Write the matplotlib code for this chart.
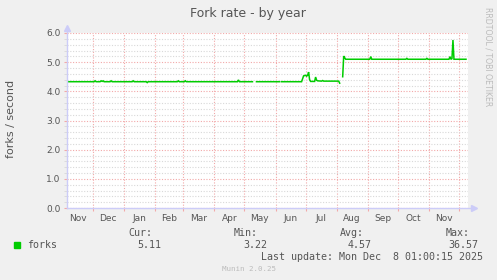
import numpy as np
import matplotlib
matplotlib.use("Agg")
import matplotlib.pyplot as plt
import matplotlib.dates as mdates
from matplotlib.ticker import MultipleLocator, FixedLocator, NullFormatter

# ---------------------------
# DATA (daily averages)
# ---------------------------
nan = np.nan
dates = [
    "2024-11-05", "2024-12-02", "2024-12-03", "2024-12-04",
    "2024-12-08", "2024-12-09", "2024-12-10", "2024-12-11", "2024-12-12",
    "2024-12-18", "2024-12-19", "2024-12-20",
    "2025-01-09", "2025-01-10", "2025-01-11",
    "2025-01-23", "2025-01-24", "2025-01-25",
    "2025-02-23", "2025-02-24", "2025-02-25",
    "2025-03-02", "2025-03-03", "2025-03-04",
    "2025-04-24", "2025-04-25", "2025-04-26",
    "2025-05-09", "2025-05-10", "2025-05-13",
    "2025-06-05", "2025-06-06", "2025-06-07",
    "2025-06-27", "2025-06-29", "2025-07-01", "2025-07-02", "2025-07-03",
    "2025-07-04", "2025-07-05", "2025-07-06", "2025-07-10", "2025-07-11",
    "2025-07-12", "2025-07-13", "2025-07-17", "2025-07-18", "2025-07-19",
    "2025-08-03", "2025-08-04", "2025-08-05",
    "2025-08-07", "2025-08-08", "2025-08-09", "2025-08-10",
    "2025-09-03", "2025-09-04", "2025-09-05",
    "2025-10-09", "2025-10-10", "2025-10-11",
    "2025-10-29", "2025-10-30", "2025-10-31",
    "2025-11-21", "2025-11-22", "2025-11-23", "2025-11-24", "2025-11-25",
    "2025-11-26", "2025-12-08",
]
forks = [
    4.33, 4.33, 4.36, 4.33,
    4.33, 4.36, 4.34, 4.36, 4.33,
    4.33, 4.36, 4.33,
    4.33, 4.36, 4.33,
    4.33, 4.30, 4.33,
    4.33, 4.36, 4.33,
    4.33, 4.36, 4.33,
    4.33, 4.39, 4.33,
    4.33, nan, 4.33,
    4.33, nan, 4.33,
    4.33, 4.53, 4.55, 4.52, 4.55,
    4.66, 4.40, 4.34, 4.34, 4.49,
    4.38, 4.36, 4.35, 4.37, 4.35,
    4.35, 4.28, nan,
    4.50, 5.21, 5.15, 5.10,
    5.10, 5.19, 5.10,
    5.10, 5.13, 5.10,
    5.10, 5.13, 5.10,
    5.10, 5.19, 5.10, 5.12, 5.76,
    5.10, 5.10,
]

month_starts = ["2024-12-01", "2025-01-01", "2025-02-01", "2025-03-01", "2025-04-01",
                "2025-05-01", "2025-06-01", "2025-07-01", "2025-08-01", "2025-09-01",
                "2025-10-01", "2025-11-01", "2025-12-01"]
month_labels = ["Nov", "Dec", "Jan", "Feb", "Mar", "Apr", "May", "Jun",
                "Jul", "Aug", "Sep", "Oct", "Nov"]
label_dates = ["2024-11-16", "2024-12-16", "2025-01-16", "2025-02-15", "2025-03-16",
               "2025-04-16", "2025-05-16", "2025-06-16", "2025-07-16", "2025-08-16",
               "2025-09-16", "2025-10-16", "2025-11-16"]
x_start, x_end = "2024-11-05", "2025-12-10"

legend_cols = ["Cur:", "Min:", "Avg:", "Max:"]
legend_vals = ["5.11", "3.22", "4.57", "36.57"]

# ---------------------------
# FIGURE
# ---------------------------
W, H = 497, 280
TXT = "#555555"
GREEN = "#00CC00"
AXIS = "#CCCCF8"
RED_GRID = "#F2A8A8"
GRAY_GRID = "#D8D8D8"

fig = plt.figure(figsize=(W / 100, H / 100), dpi=100, facecolor="#F0F0F0")
ax = fig.add_axes([67 / W, (H - 208) / H, 401 / W, 175 / H])
ax.set_facecolor("white")

def px(x, y):
    return x / W, 1 - y / H

d = np.array(dates, dtype="datetime64[D]")
ax.plot(mdates.date2num(d), forks, color=GREEN, lw=1.1, solid_joinstyle="miter", zorder=3)

ax.set_xlim(mdates.date2num(np.datetime64(x_start)), mdates.date2num(np.datetime64(x_end)))
ax.set_ylim(0, 6)

# grid
ax.yaxis.set_major_locator(MultipleLocator(1.0))
ax.yaxis.set_minor_locator(MultipleLocator(0.2))
ax.xaxis.set_major_locator(FixedLocator(mdates.date2num(np.array(month_starts, dtype="datetime64[D]"))))
ax.xaxis.set_major_formatter(NullFormatter())
ax.xaxis.set_minor_locator(FixedLocator(mdates.date2num(np.array(label_dates, dtype="datetime64[D]"))))
ax.xaxis.set_minor_formatter(plt.FixedFormatter(month_labels))
ax.yaxis.set_major_formatter(plt.FuncFormatter(lambda v, p: f"{v:.1f}"))

ax.grid(which="minor", axis="y", color=GRAY_GRID, ls=(0, (1, 1.5)), lw=0.8)
ax.grid(which="major", axis="y", color=RED_GRID, ls=(0, (1, 1.5)), lw=0.8)
ax.grid(which="major", axis="x", color=RED_GRID, ls=(0, (1, 1.5)), lw=0.8)

ax.tick_params(axis="y", which="major", length=2.5, color=RED_GRID, labelsize=6.5, labelcolor=TXT, pad=2)
ax.tick_params(axis="y", which="minor", length=2.5, color=GRAY_GRID)
ax.tick_params(axis="x", which="major", length=2, color=RED_GRID)
ax.tick_params(axis="x", which="minor", length=0, labelsize=6.5, labelcolor=TXT, pad=4)

for s in ax.spines.values():
    s.set_visible(False)

# axes with arrows
ax.plot([0, 1.012], [0, 0], transform=ax.transAxes, color=AXIS, lw=1, clip_on=False, zorder=4)
ax.plot([0, 0], [0, 1.03], transform=ax.transAxes, color=AXIS, lw=1, clip_on=False, zorder=4)
ax.plot([1.014], [0], transform=ax.transAxes, marker=">", ms=4, color=AXIS, clip_on=False, zorder=4)
ax.plot([0], [1.03], transform=ax.transAxes, marker="^", ms=4, color=AXIS, clip_on=False, zorder=4)

# titles
fig.text(*px(248, 13), "Fork rate - by year", ha="center", va="center", fontsize=9, color=TXT)
fig.text(*px(11, 119), "forks / second", ha="center", va="center", rotation=90, fontsize=8, color=TXT)
fig.text(*px(488, 57), "RRDTOOL / TOBI OETIKER", ha="center", va="center", rotation=270,
         fontsize=5.6, color="#BBBBBB")

# legend
mono = "DejaVu Sans Mono"
fig.patches.append(plt.Rectangle(px(14, 248), 6 / W, 6 / H, transform=fig.transFigure,
                                 color=GREEN, zorder=5))
fig.text(*px(27, 245), "forks", ha="left", va="center", fontsize=7.2, family=mono, color=TXT)
col_right = [152, 258, 364, 470]
val_right = [161, 267, 372, 478]
for c, v, cr, vr in zip(legend_cols, legend_vals, col_right, val_right):
    fig.text(*px(cr, 233), c, ha="right", va="center", fontsize=7.2, family=mono, color=TXT)
    fig.text(*px(vr, 245), v, ha="right", va="center", fontsize=7.2, family=mono, color=TXT)
fig.text(*px(483, 257), "Last update: Mon Dec  8 01:00:15 2025", ha="right", va="center",
         fontsize=7.2, family=mono, color=TXT)
fig.text(*px(249, 269), "Munin 2.0.25", ha="center", va="center", fontsize=5.4, family=mono,
         color="#BBBBBB")

fig.savefig("out.png", dpi=100, facecolor=fig.get_facecolor())
